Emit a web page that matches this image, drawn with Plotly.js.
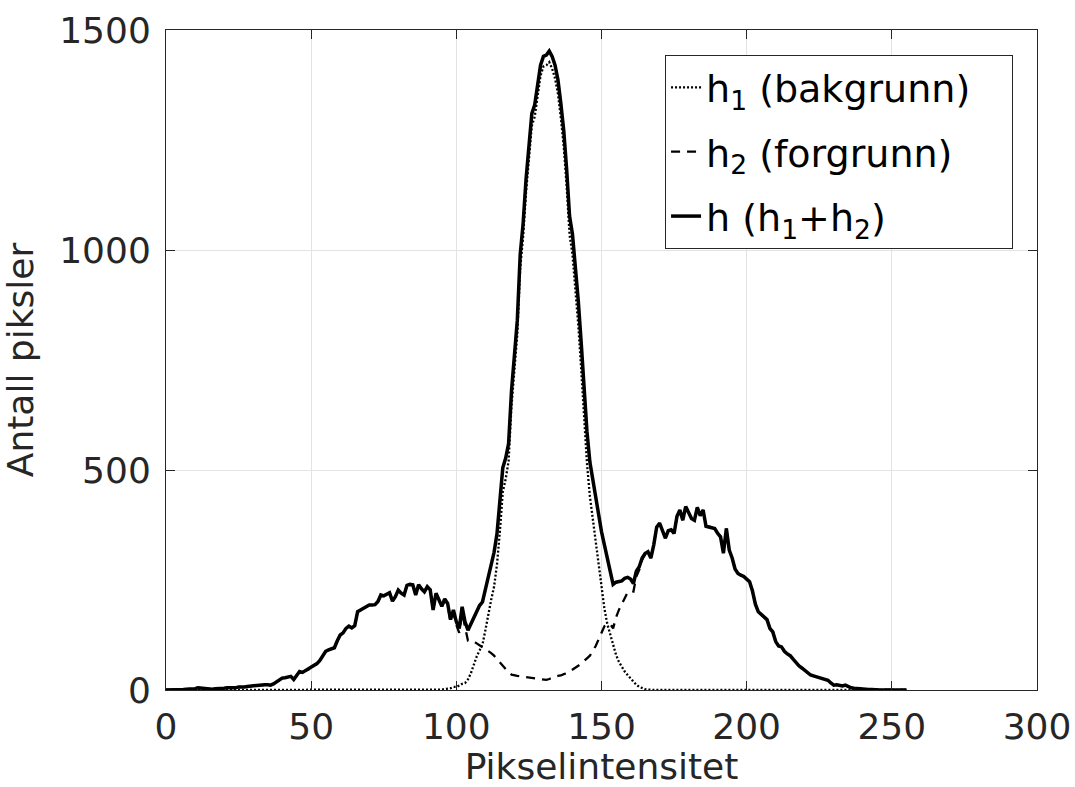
<!DOCTYPE html>
<html>
<head>
<meta charset="utf-8">
<script src="https://cdn.plot.ly/plotly-3.0.1.min.js"></script>
<style>
  html, body { margin: 0; padding: 0; background: #ffffff; }
  #chart { width: 1075px; height: 787px; }
</style>
</head>
<body>
<div id="chart"></div>
<script>
// h1: background histogram (bins 0..255)
const h1 = [
  0,0,0,0,0,0,0,0,0,0,
  0,0,0,0,0,0,0,0,0,0,
  0,0,0,0,0,0,0,0,0,0,
  0,0,0,0,0,0,0,0,0,0,
  0,0,0,0,0,0,0,0,0,0,
  0,0,0,0,0,0,0,0,0,0,
  0,0,0,0,0,0,0,0,0,0,
  0,0,0,0,0,0,0,0,0,0,
  0,0,0,0,0,0,0,0,0,0,
  0,0,0,0,0,1,2,3,4,7,
  7,10,14,16,24,38,58,76,90,103,
  136,174,205,235,285,360,450,480,520,645,
  737,808,959,1030,1130,1211,1282,1303,1345,1396,
  1417,1420,1427,1412,1390,1355,1300,1235,1145,1035,
  990,915,830,730,610,515,440,390,330,280,
  230,185,150,125,100,80,64,52,42,34,
  26,18,12,7,4,2,1,0,0,0,
  0,0,0,0,0,0,0,0,0,0,
  0,0,0,0,0,0,0,0,0,0,
  0,0,0,0,0,0,0,0,0,0,
  0,0,0,0,0,0,0,0,0,0,
  0,0,0,0,0,0,0,0,0,0,
  0,0,0,0,0,0,0,0,0,0,
  0,0,0,0,0,0,0,0,0,0,
  0,0,0,0,0,0,0,0,0,0,
  0,0,0,0,0,0
];

// h2: foreground histogram (bins 0..255)
const h2 = [
  0,0,0,1,1,1,1,2,2,2,
  3,5,4,3,2,3,2,3,3,4,
  4,5,5,6,5,7,6,7,8,9,
  9,10,11,11,12,12,11,14,18,22,
  27,28,30,31,24,33,42,40,44,46,
  50,54,60,67,78,88,91,94,96,112,
  125,130,140,145,141,146,178,182,186,190,
  193,193,194,201,216,214,218,221,202,212,
  227,220,216,238,240,239,216,239,230,223,
  235,228,182,220,205,189,205,194,156,175,
  148,130,175,139,112,112,110,106,102,97,
  92,88,84,78,70,62,55,47,40,35,
  33,32,31,30,30,29,28,27,25,24,
  23,23,25,28,30,32,33,36,38,42,
  46,50,55,60,65,72,78,88,100,115,
  130,145,150,150,140,165,182,196,212,222,
  226,224,258,273,296,308,313,300,330,370,
  379,360,345,362,364,356,395,409,386,417,
  402,390,386,415,396,409,372,371,370,367,
  356,348,311,367,318,300,275,265,261,258,
  252,246,225,195,178,172,167,160,140,132,
  110,100,98,88,82,78,70,62,55,50,
  44,40,34,32,30,28,27,24,22,16,
  11,12,10,9,11,7,5,4,3,4,
  2,2,1,1,0,1,0,0,1,0,
  0,1,0,0,0,0
];

const legendNames = ["h<sub>1</sub> (bakgrunn)", "h<sub>2</sub> (forgrunn)", "h (h<sub>1</sub>+h<sub>2</sub>)"];
const xTicks = [0, 50, 100, 150, 200, 250, 300];
const yTicks = [0, 500, 1000, 1500];

const intensity = h1.map((_, i) => i);
const hTotal = h1.map((v, i) => v + h2[i]);
const pad = "\u00a0\u00a0\u00a0";

const traces = [
  { x: intensity, y: h1, type: "scatter", mode: "lines", name: legendNames[0] + pad, legendgroup: "a",
    line: { color: "#000000", width: 2.3, dash: "2px,2px" } },
  { x: intensity, y: h2, type: "scatter", mode: "lines", name: legendNames[1] + pad, legendgroup: "b",
    line: { color: "#000000", width: 2.3, dash: "9px,7px" } },
  { x: intensity, y: hTotal, type: "scatter", mode: "lines", name: legendNames[2] + pad, legendgroup: "c",
    line: { color: "#000000", width: 3.5 } }
];

const axisCommon = {
  showline: true, linecolor: "#262626", linewidth: 1, mirror: "ticks",
  ticks: "inside", ticklen: 9, tickwidth: 1, tickcolor: "#262626",
  showgrid: true, gridcolor: "#e3e3e3", gridwidth: 1, zeroline: false,
  tickfont: { family: "DejaVu Sans", size: 36, color: "#262626" }
};

const layout = {
  width: 1075, height: 787,
  margin: { l: 166, r: 38, t: 30, b: 97 },
  paper_bgcolor: "#ffffff", plot_bgcolor: "#ffffff",
  showlegend: true,
  xaxis: Object.assign({}, axisCommon, {
    range: [0, 300], tickmode: "array", tickvals: xTicks, ticktext: xTicks.map(String),
    ticklabelstandoff: 5,
    title: { text: "Pikselintensitet", font: { family: "DejaVu Sans", size: 36, color: "#262626" }, standoff: 15 }
  }),
  yaxis: Object.assign({}, axisCommon, {
    range: [0, 1500], tickmode: "array", tickvals: yTicks, ticktext: yTicks.map(String),
    ticklabelstandoff: 7,
    title: { text: "Antall piksler", font: { family: "DejaVu Sans", size: 36, color: "#262626" }, standoff: 18 }
  }),
  legend: {
    x: 0.9725, y: 0.962, xanchor: "right", yanchor: "top",
    bgcolor: "#ffffff", bordercolor: "#262626", borderwidth: 1,
    font: { family: "DejaVu Sans", size: 38, color: "#000000" },
    tracegroupgap: 12, itemwidth: 30
  }
};

Plotly.newPlot("chart", traces, layout, { displayModeBar: false, staticPlot: true });
</script>
</body>
</html>
